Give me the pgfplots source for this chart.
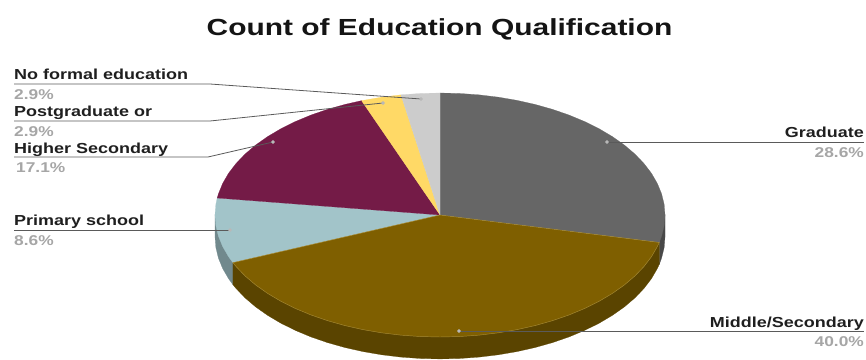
\documentclass[border=0pt]{standalone}
\usepackage{pgfplots}
\pgfplotsset{compat=1.18}
\usepackage{fontspec}
\setmainfont{Liberation Sans}
\newfontfamily\widefont[FakeStretch=1.24,BoldFont={Liberation Sans Bold}]{Liberation Sans}
\newfontfamily\pctfont[FakeStretch=1.22,BoldFont={Liberation Sans Bold}]{Liberation Sans}
\newfontfamily\titlefont[FakeStretch=1.285,BoldFont={Liberation Sans Bold}]{Liberation Sans}
\definecolor{gradc}{HTML}{666666}
\definecolor{gradw}{HTML}{484848}
\definecolor{midc}{HTML}{7F5F00}
\definecolor{midw}{HTML}{5A4400}
\definecolor{mide}{HTML}{A58A35}
\definecolor{primc}{HTML}{A2C4C9}
\definecolor{primw}{HTML}{71898D}
\definecolor{highc}{HTML}{741B47}
\definecolor{postc}{HTML}{FFD966}
\definecolor{nofc}{HTML}{CCCCCC}
\definecolor{pctc}{HTML}{A6A6A6}
\definecolor{leadc}{HTML}{5A5A5A}
\newcommand{\lab}[1]{{\widefont\fontsize{14.5bp}{15bp}\selectfont\bfseries\textcolor{black!88}{#1}}}
\newcommand{\pct}[1]{{\pctfont\fontsize{14.2bp}{15bp}\selectfont\bfseries\textcolor{pctc}{#1}}}
\tikzset{lead/.style={leadc, line width=0.8pt, mark=none}}
\begin{document}
\begin{tikzpicture}
\path[use as bounding box] (0,0) rectangle (866bp,360bp);
% Pie: shares 28.6, 40.0, 8.6, 17.1, 2.9, 2.9 clockwise from the top,
% in unit-circle coordinates that the axis scales to an ellipse.
\begin{axis}[
  at={(0,0)}, anchor=south west, scale only axis,
  width=866bp, height=360bp, hide axis, clip=false,
  xmin=-1.95556, xmax=1.89333, ymin=-1.18852, ymax=1.76230]
% side walls
\addplot[fill=gradw, draw=gradw, line width=0.2pt, mark=none] coordinates {
 (1,0) (1,-.18) (.9962,-.2672) (.9848,-.3536) (.9744,-.4050) (.9744,-.2250)} -- cycle;
\addplot[fill=primw, draw=primw, line width=0.2pt, mark=none] coordinates {
 (-.9205,-.3907) (-.9205,-.5707) (-.9397,-.5220) (-.9659,-.4388) (-.9848,-.3536)
 (-.9962,-.2672) (-1,-.18) (-1,0)} -- cycle;
\addplot[fill=midw, draw=midw, line width=0.2pt, mark=none] coordinates {
 (.9744,-.2250) (.9744,-.4050) (.9659,-.4388) (.9397,-.5220) (.9063,-.6026) (.8660,-.68)
 (.8192,-.7536) (.7660,-.8228) (.7071,-.8871) (.6428,-.9460) (.5736,-.9992) (.5,-1.0460)
 (.4226,-1.0863) (.3420,-1.1197) (.2588,-1.1459) (.1736,-1.1648) (.0872,-1.1762) (0,-1.18)
 (-.0872,-1.1762) (-.1736,-1.1648) (-.2588,-1.1459) (-.3420,-1.1197) (-.4226,-1.0863)
 (-.5,-1.0460) (-.5736,-.9992) (-.6428,-.9460) (-.7071,-.8871) (-.7660,-.8228)
 (-.8192,-.7536) (-.8660,-.68) (-.9063,-.6026) (-.9205,-.5707) (-.9205,-.3907)} -- cycle;
% top faces
\addplot[fill=gradc, draw=gradc, line width=0.2pt, mark=none] coordinates {
 (0,0) (0,1) (.0872,.9962) (.1736,.9848) (.2588,.9659) (.3420,.9397) (.4226,.9063) (.5,.8660)
 (.5736,.8192) (.6428,.7660) (.7071,.7071) (.7660,.6428) (.8192,.5736) (.8660,.5) (.9063,.4226)
 (.9397,.3420) (.9659,.2588) (.9848,.1736) (.9962,.0872) (1,0) (.9962,-.0872) (.9848,-.1736)
 (.9744,-.2250)} -- cycle;
\addplot[fill=primc, draw=primc, line width=0.2pt, mark=none] coordinates {
 (0,0) (-.9205,-.3907) (-.9397,-.3420) (-.9659,-.2588) (-.9848,-.1736) (-.9962,-.0872) (-1,0)
 (-.9962,.0872) (-.9903,.1392)} -- cycle;
\addplot[fill=highc, draw=highc, line width=0.2pt, mark=none] coordinates {
 (0,0) (-.9903,.1392) (-.9848,.1736) (-.9659,.2588) (-.9397,.3420) (-.9063,.4226) (-.8660,.5)
 (-.8192,.5736) (-.7660,.6428) (-.7071,.7071) (-.6428,.7660) (-.5736,.8192) (-.5,.8660)
 (-.4226,.9063) (-.3486,.9373)} -- cycle;
\addplot[fill=postc, draw=postc, line width=0.2pt, mark=none] coordinates {
 (0,0) (-.3486,.9373) (-.2588,.9659) (-.1736,.9848)} -- cycle;
\addplot[fill=nofc, draw=nofc, line width=0.2pt, mark=none] coordinates {
 (0,0) (-.1736,.9848) (-.0872,.9962) (0,1)} -- cycle;
\addplot[fill=midc, draw=mide, line width=0.45pt, mark=none] coordinates {
 (0,0) (.9744,-.2250) (.9659,-.2588) (.9397,-.3420) (.9063,-.4226) (.8660,-.5) (.8192,-.5736)
 (.7660,-.6428) (.7071,-.7071) (.6428,-.7660) (.5736,-.8192) (.5,-.8660) (.4226,-.9063)
 (.3420,-.9397) (.2588,-.9659) (.1736,-.9848) (.0872,-.9962) (0,-1) (-.0872,-.9962)
 (-.1736,-.9848) (-.2588,-.9659) (-.3420,-.9397) (-.4226,-.9063) (-.5,-.8660) (-.5736,-.8192)
 (-.6428,-.7660) (-.7071,-.7071) (-.7660,-.6428) (-.8192,-.5736) (-.8660,-.5) (-.9063,-.4226)
 (-.9205,-.3907)} -- cycle;
\end{axis}
% Leader lines and labels, placed in a pixel-sized axis on top of the pie.
\begin{axis}[
  at={(0,0)}, anchor=south west, scale only axis,
  width=866bp, height=360bp, hide axis, clip=false,
  xmin=0, xmax=866, ymin=0, ymax=360, y dir=reverse]
\addplot[lead] coordinates {(14,84) (210,84) (421,99)};
\addplot[lead] coordinates {(14,121) (210,121) (383,103)};
\addplot[lead] coordinates {(14,157) (208,157) (273,142)};
\addplot[lead] coordinates {(14,230) (230,230)};
\addplot[lead] coordinates {(607,142) (864,142)};
\addplot[lead] coordinates {(459,331) (864,331)};
\addplot[only marks, mark=*, mark size=1.7pt, color=black!28, mark options={draw=black!28, fill=black!28}] coordinates {
 (421,99) (383,103) (273,142) (230,230) (607,142) (459,331)};
\node[anchor=base, inner sep=0pt] at (axis cs:439.5,35)
  {\titlefont\fontsize{23.3bp}{26bp}\selectfont\bfseries\textcolor{black!92}{Count of Education Qualification}};
\node[anchor=base west, inner sep=0pt] at (axis cs:14,79) {\lab{No formal education}};
\node[anchor=base west, inner sep=0pt] at (axis cs:14,99) {\pct{2.9\%}};
\node[anchor=base west, inner sep=0pt] at (axis cs:14,116) {\lab{Postgraduate or}};
\node[anchor=base west, inner sep=0pt] at (axis cs:14,136) {\pct{2.9\%}};
\node[anchor=base west, inner sep=0pt] at (axis cs:14,153) {\lab{Higher Secondary}};
\node[anchor=base west, inner sep=0pt] at (axis cs:16,172) {\pct{17.1\%}};
\node[anchor=base west, inner sep=0pt] at (axis cs:14,225) {\lab{Primary school}};
\node[anchor=base west, inner sep=0pt] at (axis cs:14,245) {\pct{8.6\%}};
\node[anchor=base east, inner sep=0pt] at (axis cs:864,137) {\lab{Graduate}};
\node[anchor=base east, inner sep=0pt] at (axis cs:864,157) {\pct{28.6\%}};
\node[anchor=base east, inner sep=0pt] at (axis cs:864,327) {\lab{Middle/Secondary}};
\node[anchor=base east, inner sep=0pt] at (axis cs:864,346) {\pct{40.0\%}};
\end{axis}
\end{tikzpicture}
\end{document}
